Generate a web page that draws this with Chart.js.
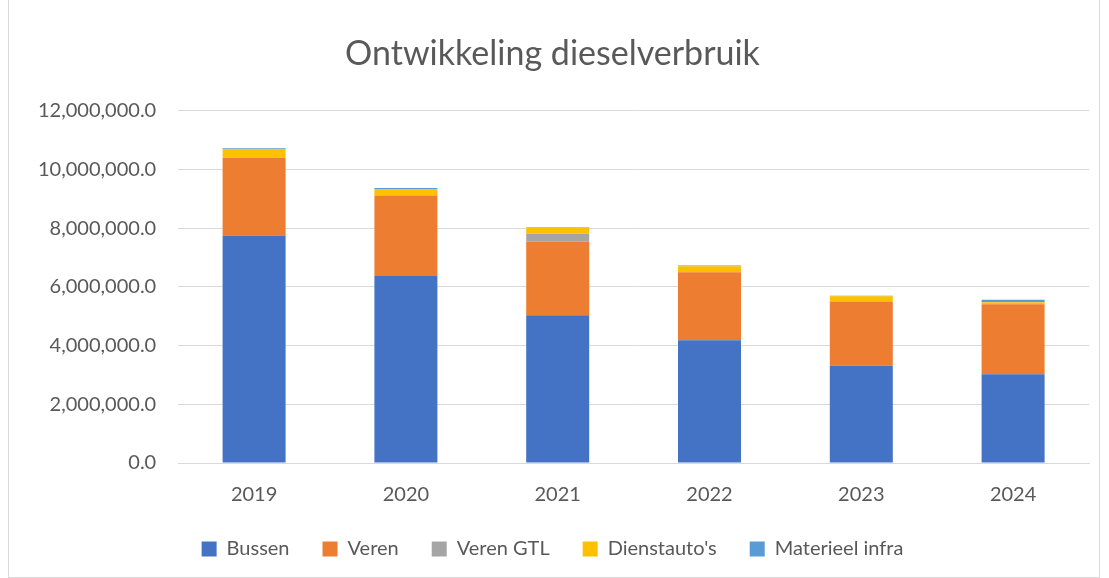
<!DOCTYPE html>
<html>
<head>
<meta charset="utf-8">
<script src="https://cdn.jsdelivr.net/npm/chart.js@4"></script>
<style>
  body { margin: 0; background: #fff; }
  #wrap { position: absolute; left: 8px; top: -1px; width: 1092px; height: 579px; border: 1px solid #d9d9d9; box-sizing: border-box; }
</style>
</head>
<body>
<div id="wrap"><canvas id="dieselChart" width="1090" height="577"></canvas></div>
<script>
// Data
const jaren = ["2019", "2020", "2021", "2022", "2023", "2024"];
const bussen = [7750000, 6370000, 5030000, 4180000, 3310000, 3020000];
const veren = [2650000, 2740000, 2510000, 2320000, 2190000, 2390000];
const verenGTL = [0, 0, 270000, 0, 0, 0];
const dienstautos = [280000, 210000, 210000, 200000, 180000, 70000];
const materieelInfra = [40000, 50000, 20000, 30000, 20000, 80000];

const font = "Lato, 'Open Sans', sans-serif";
const grijs = "#595959";

document.addEventListener("DOMContentLoaded", () => {
    const ctx = document.getElementById("dieselChart").getContext("2d");

    const ds = (label, data, color) => ({
        label: label,
        data: data,
        backgroundColor: color,
        borderWidth: 0,
        categoryPercentage: 1.0,
        barPercentage: 0.415
    });

    new Chart(ctx, {
        type: "bar",
        data: {
            labels: jaren,
            datasets: [
                ds("Bussen", bussen, "#4472C4"),
                ds("Veren", veren, "#ED7D31"),
                ds("Veren GTL", verenGTL, "#A5A5A5"),
                ds("Dienstauto's", dienstautos, "#FFC000"),
                ds("Materieel infra", materieelInfra, "#5B9BD5")
            ]
        },
        options: {
            responsive: false,
            animation: false,
            layout: { padding: { left: 7, right: 10, top: 20, bottom: 8 } },
            plugins: {
                title: {
                    display: true,
                    text: "Ontwikkeling dieselverbruik",
                    color: grijs,
                    font: { family: font, size: 34, weight: "normal" },
                    padding: { top: 14, bottom: 36 }
                },
                legend: {
                    position: "bottom",
                    labels: {
                        color: grijs,
                        font: { family: font, size: 20 },
                        boxWidth: 15,
                        boxHeight: 15,
                        padding: 33
                    }
                },
                tooltip: { enabled: false }
            },
            scales: {
                x: {
                    stacked: true,
                    grid: { display: false },
                    border: { color: "#d9d9d9" },
                    ticks: { color: grijs, font: { family: font, size: 20 }, padding: 12 },
                    afterFit: axis => { axis.height -= 13; }
                },
                y: {
                    stacked: true,
                    min: 0,
                    max: 12000000,
                    ticks: {
                        stepSize: 2000000,
                        color: grijs,
                        font: { family: font, size: 20 },
                        padding: 22,
                        callback: v => v.toLocaleString("en-US", { minimumFractionDigits: 1, maximumFractionDigits: 1 })
                    },
                    grid: { color: "#d9d9d9", drawTicks: false },
                    border: { display: false }
                }
            }
        }
    });
});
</script>
</body>
</html>
